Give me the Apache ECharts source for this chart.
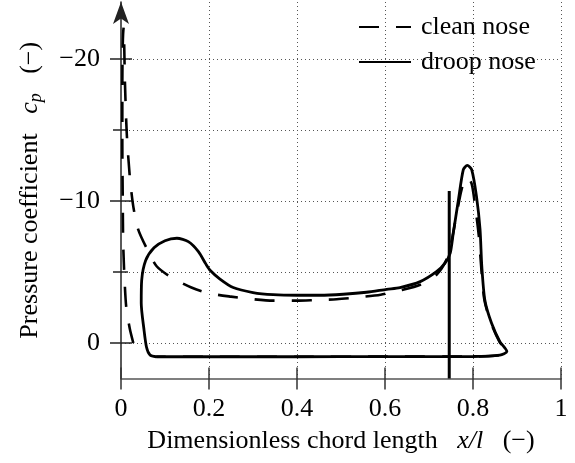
<!DOCTYPE html>
<html>
<head>
<meta charset="utf-8">
<script src="https://cdn.jsdelivr.net/npm/echarts@6/dist/echarts.min.js"></script>
<style>
  html, body { margin: 0; padding: 0; background: #fff; }
  #chart { width: 575px; height: 463px; }
</style>
</head>
<body>
<div id="chart"></div>
<script>
// 压力系数分布 (cp over x/l)
const xTickValues = [0, 0.2, 0.4, 0.6, 0.8, 1];
const yLabelValues = [-20, -10, 0];
const yMinorValues = [-15, -5];

// clean nose: leading edge lower branch -> suction peak -> upper surface -> aft peak -> lower surface
const cleanNose = [
  [0.028, 0.0], [0.020, -1.0], [0.012, -2.5], [0.008, -4.5], [0.005, -7.0],
  [0.004, -10.0], [0.003, -14.0], [0.003, -18.0], [0.004, -21.0], [0.006, -22.2],
  [0.009, -18.3], [0.013, -14.8], [0.020, -11.7], [0.028, -9.6], [0.039, -8.0],
  [0.061, -6.5], [0.081, -5.4], [0.115, -4.6], [0.160, -3.9], [0.200, -3.5],
  [0.250, -3.26], [0.300, -3.08], [0.345, -2.98], [0.400, -2.98], [0.440, -3.02],
  [0.490, -3.08], [0.535, -3.2], [0.590, -3.4], [0.634, -3.7], [0.680, -4.1],
  [0.717, -4.8], [0.743, -6.1], [0.763, -9.1], [0.774, -10.8], [0.786, -11.7],
  [0.797, -11.2], [0.805, -9.6], [0.813, -7.6], [0.819, -5.2], [0.826, -3.0],
  [0.841, -1.4], [0.860, -0.1], [0.876, 0.6], [0.860, 0.86], [0.800, 0.95],
  [0.600, 0.96], [0.400, 0.97], [0.200, 0.97], [0.080, 0.97]
];

// droop nose
const droopNose = [
  [0.080, 0.97], [0.066, 0.85], [0.058, 0.3], [0.052, -1.0], [0.046, -2.8],
  [0.047, -4.4], [0.056, -5.8], [0.075, -6.7], [0.100, -7.2], [0.127, -7.37],
  [0.153, -7.13], [0.176, -6.43], [0.193, -5.55], [0.203, -5.1], [0.225, -4.5],
  [0.255, -3.9], [0.300, -3.55], [0.346, -3.4], [0.400, -3.36], [0.452, -3.36],
  [0.505, -3.43], [0.558, -3.57], [0.604, -3.78], [0.634, -3.9], [0.680, -4.32],
  [0.717, -5.02], [0.736, -5.6], [0.748, -6.3], [0.755, -7.7], [0.767, -10.1],
  [0.778, -12.2], [0.787, -12.5], [0.797, -12.2], [0.808, -10.3], [0.816, -8.0],
  [0.820, -5.4], [0.827, -3.0], [0.842, -1.4], [0.861, -0.1], [0.877, 0.6],
  [0.861, 0.85], [0.800, 0.95], [0.600, 0.96], [0.400, 0.97], [0.200, 0.97],
  [0.080, 0.97]
];

// vertical marker line
const markerLine = [[0.746, -10.7], [0.746, 2.5]];

const FONT = "Liberation Serif";
const FS = 26;
const gridLine = { color: "#555", width: 1, type: [1, 3] };

const fmtY = (v) => {
  if (v % 10 !== 0) return "";
  return v < 0 ? "\u2212" + Math.abs(v) : String(v);
};

const options = {
  animation: false,
  grid: { left: 121, right: 14, top: 2, bottom: 84.5, containLabel: false },
  legend: {
    orient: "vertical",
    left: 358,
    top: 12,
    padding: 0,
    itemWidth: 52,
    itemHeight: 14,
    itemGap: 5,
    data: ["clean nose", "droop nose"],
    itemStyle: { opacity: 0 },
    textStyle: { fontFamily: FONT, fontSize: FS, color: "#000", lineHeight: 30, padding: [0, 0, 0, 5] },
  },
  xAxis: [
    {
      type: "value",
      min: 0,
      max: 1,
      interval: 0.2,
      position: "bottom",
      name: "{a|Dimensionless chord length   }{i|x/l}{a|   (\u2212)}",
      nameLocation: "middle",
      nameGap: 50,
      nameTextStyle: {
        rich: {
          a: { fontFamily: FONT, fontSize: FS, color: "#000" },
          i: { fontFamily: FONT, fontSize: FS, color: "#000", fontStyle: "italic" },
        },
      },
      axisLine: { onZero: false, lineStyle: { color: "#555", width: 1.5 } },
      axisTick: { show: false },
      axisLabel: {
        margin: 18,
        color: "#000",
        fontFamily: FONT,
        fontSize: FS,
        formatter: (v) => String(+v.toFixed(1)),
      },
      splitLine: { show: true, showMinLine: false, lineStyle: gridLine },
    },
    {
      // 刻度线穿过轴线
      type: "value",
      min: 0,
      max: 1,
      interval: 0.2,
      position: "bottom",
      offset: -11,
      axisLine: { show: false, onZero: false },
      axisTick: { show: true, length: 22, customValues: xTickValues, lineStyle: { color: "#333", width: 1.5 } },
      axisLabel: { show: false },
      splitLine: { show: false },
    },
  ],
  yAxis: [
    {
      type: "value",
      inverse: true,
      min: -24,
      max: 2.5,
      position: "left",
      name: "{a|Pressure coefficient   }{i|c}{s|p}{a|   (\u2212)}",
      nameLocation: "middle",
      nameGap: 76,
      nameTextStyle: {
        rich: {
          a: { fontFamily: FONT, fontSize: FS, color: "#000", lineHeight: 30 },
          i: { fontFamily: FONT, fontSize: FS, color: "#000", fontStyle: "italic", lineHeight: 30 },
          s: { fontFamily: FONT, fontSize: 18, color: "#000", fontStyle: "italic", lineHeight: 18, verticalAlign: "bottom" },
        },
      },
      axisLine: {
        onZero: false,
        symbol: ["none", "arrow"],
        symbolSize: [12, 22],
        symbolOffset: [0, 0],
        lineStyle: { color: "#222", width: 1.5 },
      },
      axisTick: { show: false },
      axisLabel: { margin: 21, color: "#000", fontFamily: FONT, fontSize: FS, formatter: fmtY },
      splitLine: { show: true, showMinLine: false, showMaxLine: false, lineStyle: gridLine },
    },
    {
      type: "value",
      inverse: true,
      min: -24,
      max: 2.5,
      position: "left",
      offset: -11,
      axisLine: { show: false, onZero: false },
      axisTick: { show: true, length: 22, customValues: yLabelValues, lineStyle: { color: "#222", width: 1.5 } },
      axisLabel: { show: false },
      splitLine: { show: false },
    },
    {
      type: "value",
      inverse: true,
      min: -24,
      max: 2.5,
      position: "left",
      offset: -7,
      axisLine: { show: false, onZero: false },
      axisTick: { show: true, length: 15, customValues: yMinorValues, lineStyle: { color: "#222", width: 1.5 } },
      axisLabel: { show: false },
      splitLine: { show: false },
    },
  ],
  series: [
    {
      name: "clean nose",
      type: "line",
      data: cleanNose,
      symbol: "none",
      smooth: 0.25,
      lineStyle: { color: "#000", width: 2.6, type: [20, 17] },
      itemStyle: { color: "#000" },
    },
    {
      name: "droop nose",
      type: "line",
      data: droopNose,
      symbol: "none",
      smooth: 0.25,
      lineStyle: { color: "#000", width: 2.8, type: "solid" },
      itemStyle: { color: "#000" },
    },
    {
      name: "marker",
      type: "line",
      data: markerLine,
      symbol: "none",
      lineStyle: { color: "#000", width: 3 },
    },
  ],
};

const chart = echarts.init(document.getElementById("chart"), null, { renderer: "canvas" });
chart.setOption(options);
</script>
</body>
</html>
